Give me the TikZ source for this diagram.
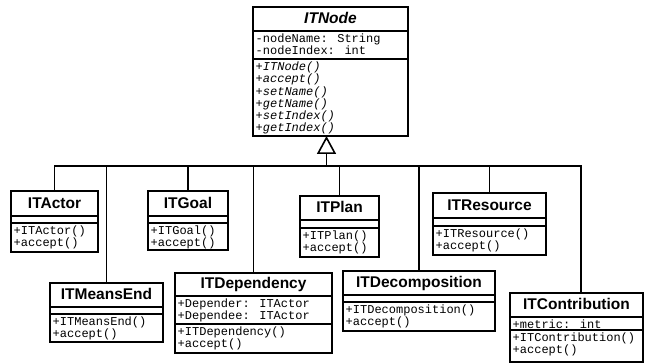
\documentclass[tikz,border=0pt]{standalone}
\usepackage{fontspec}
\setmainfont{Liberation Sans}
\newfontfamily\monof{Liberation Mono}
\usetikzlibrary{arrows.meta}
\tikzset{
  umlbox/.style={draw, line width=1.6pt, inner sep=0pt, outer sep=0pt, anchor=north west, fill=white},
  sepline/.style={line width=1.6pt},
  titletext/.style={font=\fontsize{15.5}{18}\selectfont\bfseries, anchor=base, inner sep=0pt},
  membertext/.style={font=\monof\fontsize{12}{12.3}\selectfont, anchor=base west, inner sep=0pt},
  link/.style={line width=1.6pt},
}
\newcommand{\umlclass}[8]{%
  \pgfmathsetmacro\uw{#3-#2}\pgfmathsetmacro\uh{#7-#4}%
  \node[umlbox, minimum width=\uw pt, minimum height=\uh pt] (#1) at (#2,#4) {};
  \draw[sepline] (#2,#5) -- (#3,#5);
  \draw[sepline] (#2,#6) -- (#3,#6);
  \node[titletext] (#1-title) at ({(#2+#3)/2},{#5-7.2}) {#8};
}
\newcommand{\members}[5]{%
  \foreach \txt [count=\i] in {#5} {
    \node[membertext] (#1-#2\i) at ({#3+2.5},{#4+11.5+12.3*(\i-1)}) {\txt};
  }
}
\begin{document}
\begin{tikzpicture}[x=1pt,y=-1pt]
\useasboundingbox (0,0) rectangle (645,363);
\fill[white] (0,0) rectangle (645,363);

% base class
\umlclass{ITNode}{253}{408}{7}{31}{59}{136}{\itshape ITNode}
\members{ITNode}{a}{253}{31}{{-nodeName: String},{-nodeIndex: int}}
\members{ITNode}{m}{253}{59}{{\itshape +ITNode()},{\itshape +accept()},{\itshape +setName()},{\itshape +getName()},{\itshape +setIndex()},{\itshape +getIndex()}}

% subclasses
\umlclass{ITActor}{11}{98}{191}{216}{223}{252}{ITActor}
\members{ITActor}{m}{11}{223}{{+ITActor()},{+accept()}}

\umlclass{ITGoal}{148}{228}{191}{216}{223}{250}{ITGoal}
\members{ITGoal}{m}{148}{223}{{+ITGoal()},{+accept()}}

\umlclass{ITPlan}{300}{379}{196}{220}{228}{257}{ITPlan}
\members{ITPlan}{m}{300}{228}{{+ITPlan()},{+accept()}}

\umlclass{ITResource}{433}{546}{193}{218}{226}{255}{ITResource}
\members{ITResource}{m}{433}{226}{{+ITResource()},{+accept()}}

\umlclass{ITMeansEnd}{50}{163}{283}{307}{314}{342}{ITMeansEnd}
\members{ITMeansEnd}{m}{50}{314}{{+ITMeansEnd()},{+accept()}}

\umlclass{ITDependency}{175}{332}{273}{296}{324}{353}{ITDependency}
\members{ITDependency}{a}{175}{296}{{+Depender: ITActor},{+Dependee: ITActor}}
\members{ITDependency}{m}{175}{324}{{+ITDependency()},{+accept()}}

\umlclass{ITDecomposition}{343}{495}{271}{295}{302}{331}{ITDecomposition}
\members{ITDecomposition}{m}{343}{302}{{+ITDecomposition()},{+accept()}}

\umlclass{ITContribution}{510}{643}{293}{317}{330}{362}{ITContribution}
\members{ITContribution}{a}{510}{317}{{+metric: int}}
\members{ITContribution}{m}{510}{330}{{+ITContribution()},{+accept()}}

% generalisation tree
\coordinate (bus) at (0,166);
\coordinate (hub) at (326.5,166);
\coordinate (contribTop) at (581,293);
\draw[link] (ITActor.north) |- (contribTop |- bus) -- (contribTop);
\foreach \c in {ITMeansEnd,ITGoal,ITDependency,ITPlan,ITDecomposition,ITResource}
  \draw[link] (\c.north) -- (\c.north |- bus);
\draw[link, -{Triangle[open, length=18pt, width=19pt, line width=1.6pt]}] (hub) -- (hub |- ITNode.south);
\end{tikzpicture}
\end{document}
